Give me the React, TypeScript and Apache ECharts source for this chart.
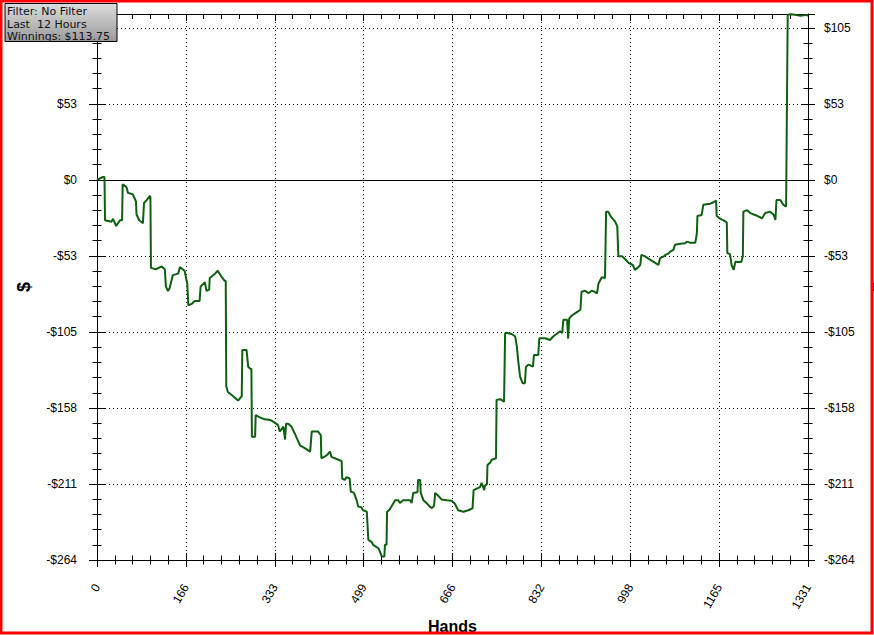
import React, { useEffect, useRef } from "react";
import * as echarts from "echarts";

const hands = [
  0, 11, 14, 15, 27, 30, 36, 43, 47, 48, 55, 58, 67, 73, 74, 79, 86, 88, 93, 99,
  100, 101, 110, 121, 127, 129, 133, 136, 142, 152, 155, 164, 169, 171, 177, 183, 192, 194, 202, 205,
  210, 211, 221, 226, 233, 239, 241, 242, 245, 255, 264, 271, 272, 280, 283, 287, 289, 290, 296, 297,
  305, 314, 324, 330, 339, 342, 349, 352, 354, 358, 364, 370, 380, 389, 399, 402, 414, 419, 420, 430,
  436, 439, 452, 458, 459, 464, 467, 473, 475, 481, 486, 489, 495, 498, 505, 508, 514, 517, 527, 530,
  533, 538, 539, 542, 543, 548, 551, 558, 564, 567, 573, 586, 589, 592, 600, 601, 605, 606, 611, 617,
  623, 627, 631, 633, 639, 645, 655, 664, 670, 676, 686, 695, 703, 705, 711, 717, 720, 725, 726, 730,
  731, 736, 739, 747, 748, 755, 762, 764, 767, 777, 783, 786, 789, 792, 797, 801, 803, 808, 816, 818,
  826, 828, 839, 848, 854, 862, 867, 871, 873, 880, 882, 884, 889, 897, 905, 907, 914, 920, 926, 931,
  936, 939, 945, 951, 953, 957, 962, 970, 974, 976, 983, 989, 995, 1003, 1007, 1012, 1017, 1019, 1026, 1036,
  1045, 1051, 1054, 1061, 1064, 1070, 1073, 1079, 1082, 1092, 1101, 1104, 1110, 1120, 1123, 1124, 1132, 1135, 1148, 1154,
  1159, 1160, 1167, 1174, 1179, 1180, 1185, 1188, 1192, 1195, 1201, 1206, 1209, 1210, 1217, 1223, 1232, 1245, 1251, 1260,
  1267, 1270, 1272, 1279, 1285, 1290, 1293, 1298, 1307, 1317, 1328, 1331,
];

const winnings = [
  0, 2, 2, -28, -29, -27, -32, -28, -28, -3, -5, -9, -10, -15, -24, -28, -30, -16, -14, -11,
  -12, -61, -62, -60, -62, -74, -77, -75, -66, -65, -60.5, -63, -72, -87, -86, -84, -84, -74, -71, -77,
  -76, -68, -65, -63, -67, -70, -70, -143, -147, -150, -153, -150, -118, -118, -129.5, -131, -131, -178, -178, -163,
  -164.6, -166, -166.4, -167.6, -170, -174.5, -171, -180, -169, -169, -171, -175.6, -184, -186, -188.4, -174.5, -174.5, -177, -193, -191,
  -188.4, -192, -194, -195, -207, -208, -206, -207, -216, -217, -222, -226.5, -227, -229, -230, -249.6, -251, -253, -255.4, -258,
  -261, -261, -253, -253, -230, -228.5, -226.5, -222, -222, -224, -222, -222, -224, -217, -216.5, -208, -208, -217, -222, -224,
  -226.5, -227.5, -226, -217, -219, -221.5, -222, -222.4, -224.5, -229, -230, -229, -227.7, -215, -214, -213, -210, -215, -212, -211,
  -197.6, -196, -194, -193, -152.5, -152, -153.7, -106.3, -106, -107, -108.6, -115.6, -127, -136.4, -141, -141, -129.5, -128, -129.5, -121.4,
  -121.4, -109.8, -109.8, -111, -108.6, -106.3, -105, -106, -97, -97, -110, -96, -94, -92, -90, -77.5, -76.8, -78.6, -76.8, -77.5,
  -78.6, -71.6, -67.5, -68, -22, -22, -25.5, -29, -32.4, -53, -53, -55, -57.5, -59, -62.4, -61, -59, -52, -53, -55.5,
  -57.5, -59, -54.3, -53, -52, -51, -49.7, -48.5, -45, -44.3, -44, -42.8, -43.5, -43.5, -37, -25, -24.3, -17.3, -16.5, -15.5,
  -14.3, -25, -27, -28.2, -29.5, -50.8, -51.5, -59, -62.4, -56.8, -57, -57, -53, -22, -21, -23, -24.3, -26.6, -23, -22,
  -24.3, -27.7, -13.9, -13.9, -17.3, -18.5, 114.4, 114.8, 114.4, 113.7, 114.4, 113.75,
];

const infoLines = ["Filter: No Filter", "Last  12 Hours", "Winnings: $113.75"];

const X_MAX = 1331;
const X_INTERVAL = 1331 / 8;
const Y_MIN = -263.5;
const Y_MAX = 115;
const Y_INTERVAL = 52.7;

const labelFont = { fontFamily: "Liberation Sans, Arial, sans-serif", fontSize: 12, color: "#000" };

function yLabel(v: number): string {
  if (Math.abs(v - Y_MAX) < 0.01) return "";
  const r = Math.round(Math.abs(v));
  return (v < -0.5 ? "-" : "") + "$" + r;
}

// left axis: the top label sits under the info box in the reference
function yLabelLeft(v: number): string {
  if (v > 100) return "";
  return yLabel(v);
}

export default function App() {
  const ref = useRef<HTMLDivElement>(null);
  useEffect(() => {
    document.body.style.margin = "0";
    const chart = echarts.init(ref.current!, null, { renderer: "svg" });
    const data = hands.map((h, i) => [h, winnings[i]]);
    const baseX = {
      type: "value",
      min: 0,
      max: X_MAX,
      interval: X_INTERVAL,
      axisLine: { show: false, onZero: false },
      axisLabel: { show: false },
      splitLine: { show: false },
      axisTick: { show: false },
    };
    const baseY = {
      type: "value",
      min: Y_MIN,
      max: Y_MAX,
      interval: Y_INTERVAL,
      axisLine: { show: false, onZero: false },
      axisLabel: { show: false },
      splitLine: { show: false },
      axisTick: { show: false },
    };
    const tickStyle = { color: "#000", width: 1 };
    const nameStyle = { fontFamily: "Liberation Sans, Arial, sans-serif", fontSize: 18, fontWeight: "bold", color: "#000" };
    chart.setOption({
      animation: false,
      backgroundColor: "#fff",
      grid: { left: 97, right: 66, top: 14, bottom: 75, containLabel: false, outerBoundsMode: "none" },
      xAxis: [
        {
          ...baseX,
          position: "bottom",
          axisLine: { show: true, onZero: false, lineStyle: { color: "#000", width: 1 } },
          axisLabel: {
            show: true,
            rotate: 60,
            margin: 25,
            ...labelFont,
            formatter: (v: number) => String(Math.round(v)),
          },
          splitLine: { show: true, lineStyle: { color: "#000", width: 1, type: [1, 3] } },
          name: "Hands",
          nameLocation: "middle",
          nameGap: 55,
          nameTextStyle: { fontFamily: "Liberation Sans, Arial, sans-serif", fontSize: 16, fontWeight: "bold", color: "#000" },
        },
        { ...baseX, position: "bottom", offset: -7, axisTick: { show: true, inside: false, length: 14, lineStyle: tickStyle } },
        { ...baseX, position: "bottom", offset: -4.5, interval: X_INTERVAL / 5, axisTick: { show: true, inside: false, length: 9, lineStyle: tickStyle } },
        {
          ...baseX,
          position: "top",
          axisLine: { show: true, onZero: false, lineStyle: { color: "#000", width: 1 } },
          axisTick: { show: true, inside: true, length: 7, lineStyle: tickStyle },
        },
        { ...baseX, position: "top", interval: X_INTERVAL / 5, axisTick: { show: true, inside: true, length: 5, lineStyle: tickStyle } },
      ],
      yAxis: [
        {
          ...baseY,
          position: "left",
          axisLine: { show: true, onZero: false, lineStyle: { color: "#000", width: 1 } },
          axisLabel: { show: true, margin: 20, ...labelFont, formatter: yLabelLeft },
          splitLine: { show: true, lineStyle: { color: "#000", width: 1, type: [1, 3] } },
          name: "$",
          nameLocation: "middle",
          nameRotate: 90,
          nameGap: 64,
          nameTextStyle: nameStyle,
        },
        { ...baseY, position: "left", offset: -8, axisTick: { show: true, inside: false, length: 16, lineStyle: tickStyle } },
        { ...baseY, position: "left", offset: -4.5, interval: Y_INTERVAL / 5, axisTick: { show: true, inside: false, length: 9, lineStyle: tickStyle } },
        {
          ...baseY,
          position: "right",
          axisLine: { show: true, onZero: false, lineStyle: { color: "#000", width: 1 } },
          axisLabel: { show: true, margin: 16, ...labelFont, formatter: yLabel },
          name: "$",
          nameLocation: "middle",
          nameRotate: 90,
          nameGap: 61,
          nameTextStyle: nameStyle,
        },
        { ...baseY, position: "right", offset: -7, axisTick: { show: true, inside: false, length: 14, lineStyle: tickStyle } },
        { ...baseY, position: "right", offset: -4.5, interval: Y_INTERVAL / 5, axisTick: { show: true, inside: false, length: 9, lineStyle: tickStyle } },
      ],
      series: [
        {
          type: "line",
          xAxisIndex: 0,
          yAxisIndex: 0,
          data,
          showSymbol: false,
          symbol: "none",
          lineStyle: { color: "#0f5f10", width: 2 },
          z: 5,
          markLine: {
            silent: true,
            symbol: ["none", "none"],
            label: { show: false },
            lineStyle: { color: "#000", width: 1, type: "solid" },
            data: [{ yAxis: 0 }],
            z: 3,
          },
        },
      ],
      graphic: [
        {
          type: "rect",
          shape: { x: 5, y: 3.5, width: 112, height: 38 },
          style: {
            fill: new echarts.graphic.LinearGradient(0, 0, 0, 1, [
              { offset: 0, color: "#dcdcdc" },
              { offset: 1, color: "#9a9a9a" },
            ]),
            stroke: "#000",
            lineWidth: 1,
          },
          z: 100,
        },
        ...infoLines.map((t, i) => ({
          type: "text",
          x: 7,
          y: 6 + i * 12.5,
          style: {
            text: t,
            fontFamily: "DejaVu Sans, Verdana, sans-serif",
            fontSize: 11,
            fill: "#111",
            verticalAlign: "top",
            align: "left",
          },
          z: 101,
        })),
        {
          type: "rect",
          shape: { x: 1, y: 1, width: 871, height: 632 },
          style: { fill: "none", stroke: "#ff0000", lineWidth: 3 },
          z: 200,
        },
      ],
    });
    return () => chart.dispose();
  }, []);
  return <div ref={ref} style={{ width: 874, height: 635, position: "absolute", left: 0, top: 0 }} />;
}
